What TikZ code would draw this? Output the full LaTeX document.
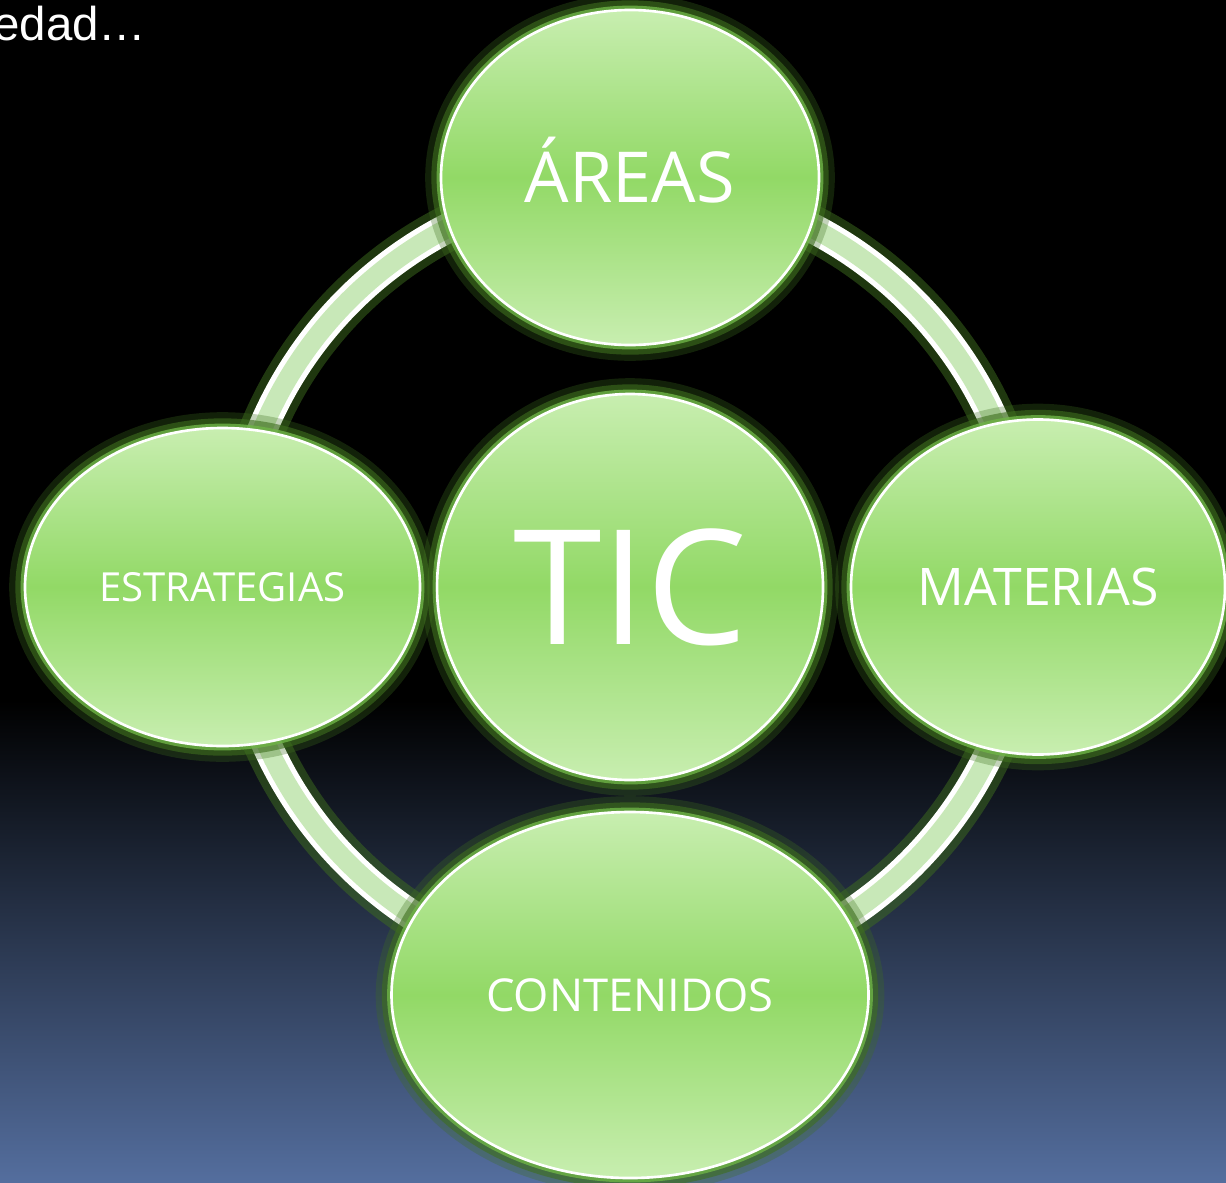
\documentclass[tikz,border=0pt]{standalone}
\usepackage{fontspec}
\setmainfont{Open Sans}
\newfontfamily\arialfont{Liberation Sans}
\usetikzlibrary{positioning, backgrounds, shapes.geometric}
\definecolor{bgblue}{RGB}{84,110,158}
\definecolor{glowgreen}{RGB}{62,110,30}
\definecolor{halogreen}{RGB}{110,180,70}
\definecolor{palegreen}{RGB}{200,238,176}
\definecolor{midgreen}{RGB}{146,217,102}
\definecolor{ringgreen}{RGB}{200,232,184}

\begin{document}
\begin{tikzpicture}
      \tikzstyle{bubble}=[ellipse, draw=white, line width=1.5pt, inner sep=0pt, outer sep=0pt, text=white,
        top color=palegreen, bottom color=palegreen, middle color=midgreen,
        preaction={draw=glowgreen, line width=18pt, draw opacity=0.3},
        preaction={draw=glowgreen, line width=11pt, draw opacity=0.6},
        preaction={draw=halogreen, line width=5pt, draw opacity=0.8}]
      \useasboundingbox (0,0) rectangle (24.52,-23.64);
      \node[bubble, circle, minimum size=7.72cm] (tic) at (12.6,-11.74) {\fontsize{91}{91}\selectfont TIC};
      \node[bubble, minimum width=7.56cm, minimum height=6.7cm, above=0.98cm of tic] (areas) {\fontsize{40}{40}\selectfont\smash{Á}REAS};
      \node[bubble, minimum width=7.48cm, minimum height=6.7cm, right=0.56cm of tic] (materias) {\fontsize{29.5}{29.5}\selectfont MATERIAS};
      \node[bubble, minimum width=7.9cm, minimum height=6.36cm, left=0.34cm of tic] (estrategias) {\fontsize{22.8}{22.8}\selectfont ESTRATEGIAS};
      \node[bubble, minimum width=9.54cm, minimum height=7.32cm, below=0.64cm of tic] (contenidos) {\fontsize{25.8}{25.8}\selectfont CONTENIDOS};
      \node[anchor=base west, text=white, inner sep=0pt] (title) at (-0.14,-0.8) {\arialfont\fontsize{27}{27}\selectfont edad…};
      % ring and backdrop
      \begin{scope}[on background layer]
        \fill[black] (0,0) rectangle (24.52,-23.64);
        \shade[top color=black, bottom color=bgblue] (0,-14) rectangle (24.52,-23.64);
        \coordinate (hub) at (12.6,-11.64);
        \draw[glowgreen, line width=26pt, opacity=0.5] (hub) circle (7.96cm);
        \draw[white, line width=17pt] (hub) circle (7.96cm);
        \draw[ringgreen, line width=11pt] (hub) circle (7.96cm);
      \end{scope}
  \end{tikzpicture}
\end{document}
